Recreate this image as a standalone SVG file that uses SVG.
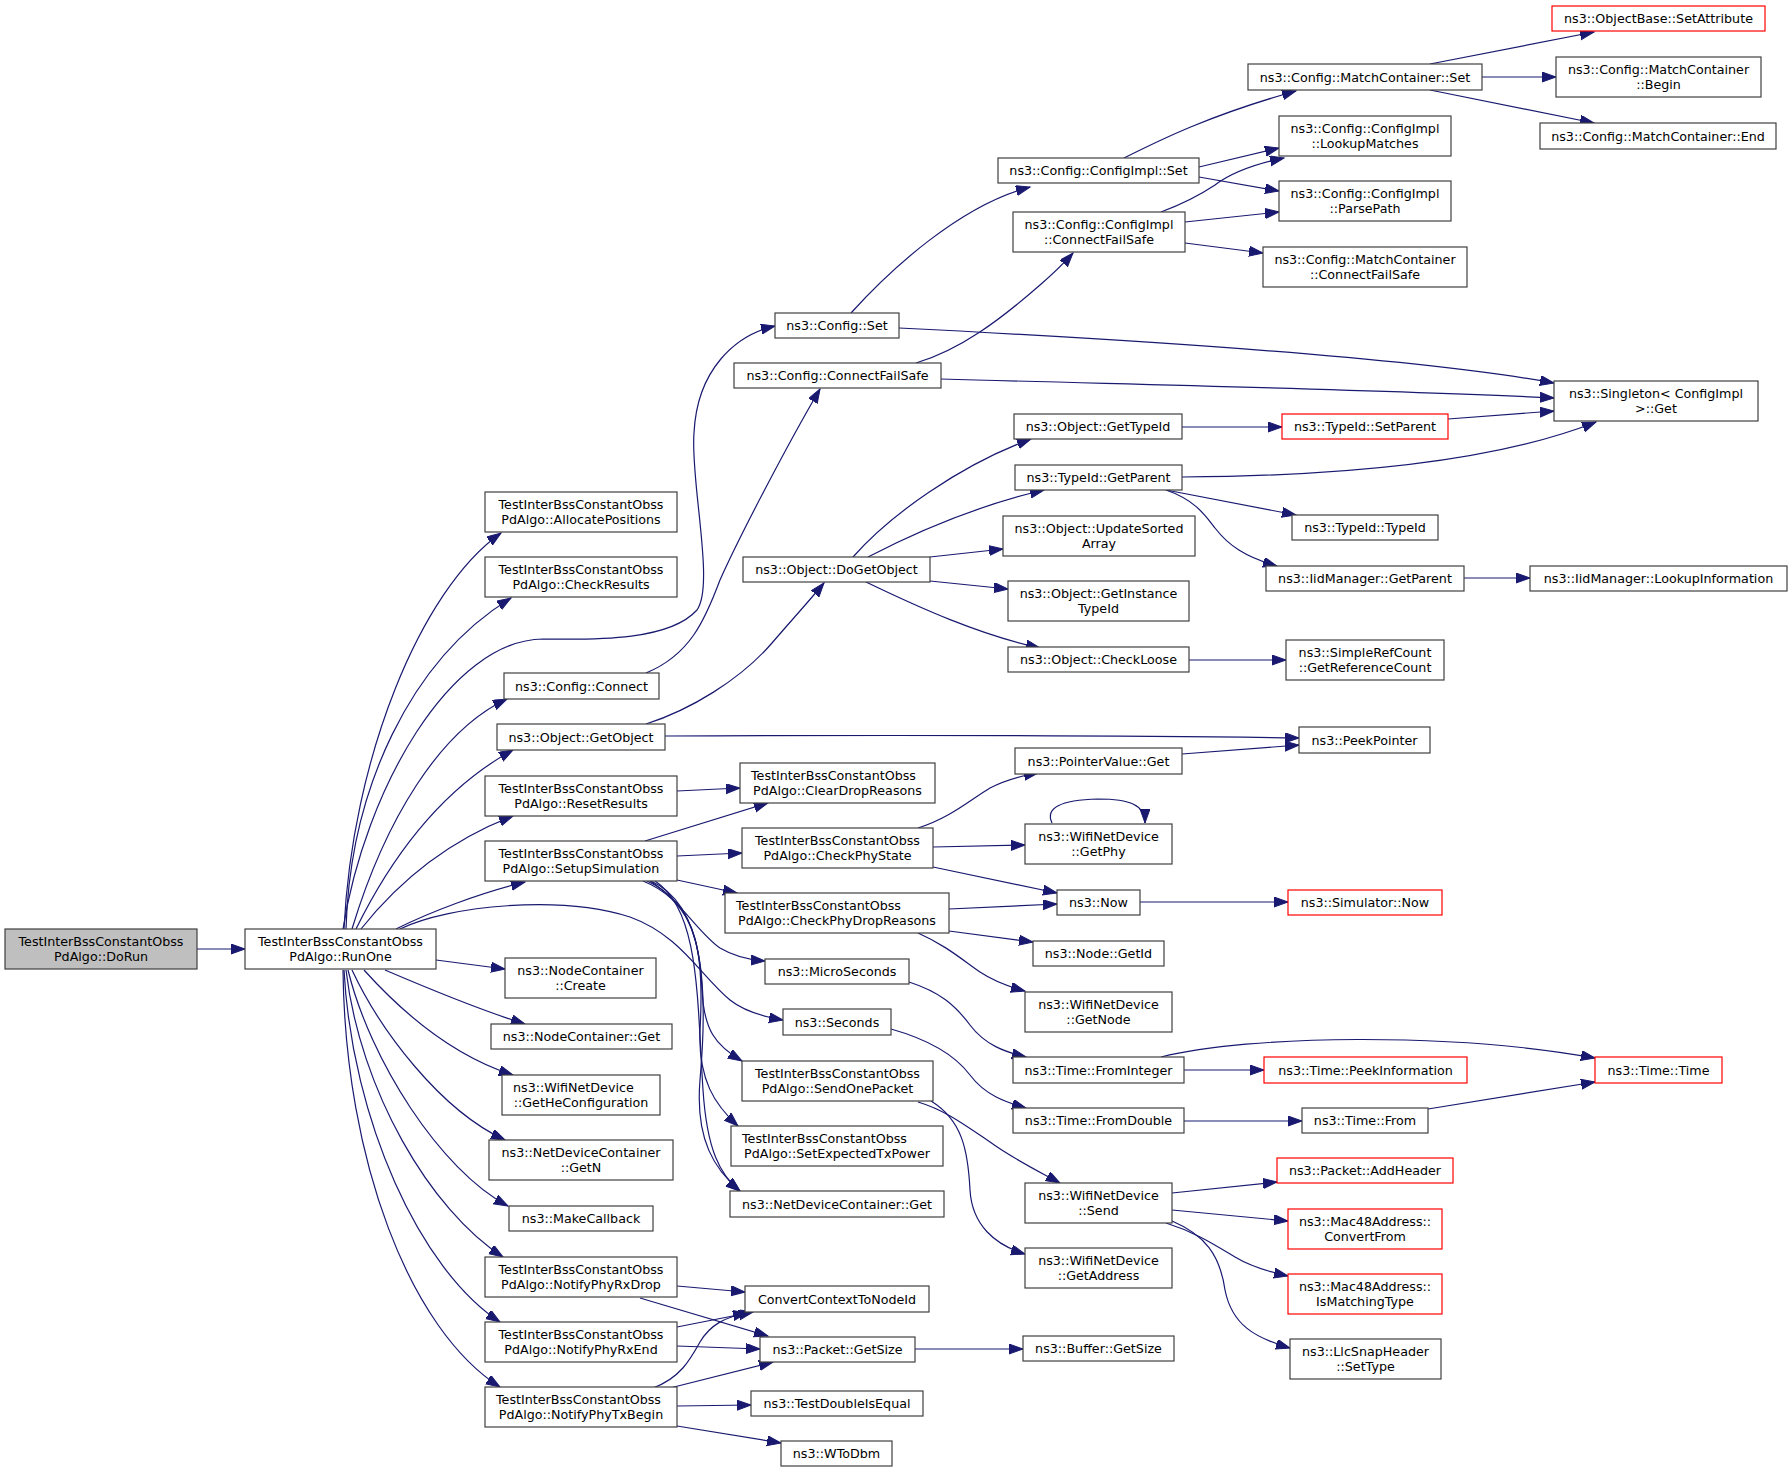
<svg xmlns="http://www.w3.org/2000/svg" width="1792" height="1475" viewBox="0 0 1792 1475">
<defs>
<style>
.n rect{fill:#fff;stroke:#404040;stroke-width:1.2}
.n.r rect{stroke:#ff0000}
.n.g rect{fill:#bfbfbf}
text{font-family:"DejaVu Sans","Liberation Sans",sans-serif;font-size:12.7px;fill:#000;text-anchor:middle}
text.l{text-anchor:start}
#edges path{fill:none;stroke:#191970;stroke-width:1.2;marker-end:url(#ah)}
</style>
<marker id="ah" markerUnits="userSpaceOnUse" markerWidth="16" markerHeight="12" refX="14" refY="5" orient="auto"><path d="M0,0 L14,5 L0,10 z" fill="#191970" stroke="#191970" stroke-width="1"/></marker>
</defs>
<rect width="1792" height="1475" fill="#fff"/>
<g id="edges">
<path d="M197,949 L245,949"/>
<path d="M344,929 C352,760 420,590 501,533"/>
<path d="M346,929 C350,790 410,660 511,598"/>
<path d="M343,929 C365,790 450,640 543,639 C600,640 670,640 697,610 C715,585 690,480 694,433 C697,370 735,335 775,326"/>
<path d="M352,929 C385,820 440,730 507,699"/>
<path d="M356,929 C390,860 440,790 513,750"/>
<path d="M361,929 C400,880 450,840 513,816"/>
<path d="M396,929 C430,912 480,893 525,882"/>
<path d="M400,929 C450,905 560,895 630,917 C680,935 700,975 730,1000 C745,1012 765,1017 783,1020"/>
<path d="M436,960 L505,969"/>
<path d="M385,970 C420,985 480,1010 525,1024"/>
<path d="M364,970 C400,1010 450,1055 513,1075"/>
<path d="M352,970 C380,1030 440,1110 505,1140"/>
<path d="M348,970 C370,1060 440,1170 508,1206"/>
<path d="M346,970 C360,1090 430,1210 503,1257"/>
<path d="M344,970 C352,1120 420,1270 500,1322"/>
<path d="M343,970 C345,1160 410,1330 500,1387"/>
<path d="M677,791 L740,788"/>
<path d="M645,841 L768,803"/>
<path d="M677,856 L742,853"/>
<path d="M677,880 L737,893"/>
<path d="M650,881 C680,900 700,935 720,948 C735,957 750,960 765,961"/>
<path d="M643,881 C690,900 700,940 702,990 C704,1030 715,1045 742,1061"/>
<path d="M647,881 C700,905 704,960 700,1030 C698,1080 715,1105 738,1126"/>
<path d="M651,881 C705,905 708,990 700,1080 C695,1140 715,1170 740,1191"/>
<path d="M655,881 C700,910 697,1000 703,1090 C707,1150 720,1175 740,1191"/>
<path d="M851,313 C890,270 960,205 1030,187"/>
<path d="M899,328 C1100,338 1400,355 1554,383"/>
<path d="M916,363 C960,350 1000,320 1040,285 C1055,272 1065,262 1073,253"/>
<path d="M941,379 C1200,386 1400,390 1554,398"/>
<path d="M646,673 C690,655 705,620 720,580 C740,535 790,440 820,389"/>
<path d="M646,724 C690,710 740,680 772,643 C790,622 810,600 824,583"/>
<path d="M665,736 C900,735 1100,735 1299,738"/>
<path d="M918,828 C950,818 970,800 990,788 C1005,780 1020,776 1038,773"/>
<path d="M933,847 L1025,845"/>
<path d="M933,867 L1057,893"/>
<path d="M949,909 L1057,904"/>
<path d="M949,931 L1033,942"/>
<path d="M918,933 C945,945 960,958 980,972 C995,982 1010,987 1025,991"/>
<path d="M1052,823 C1045,808 1060,800 1098,799 C1130,799 1145,805 1145,823"/>
<path d="M1140,902 L1288,902"/>
<path d="M909,982 C940,992 955,1005 970,1025 C985,1045 1005,1052 1026,1057"/>
<path d="M891,1029 C930,1040 955,1055 970,1075 C985,1095 1005,1102 1026,1108"/>
<path d="M918,1102 C945,1110 965,1125 990,1142 C1015,1160 1040,1172 1060,1183"/>
<path d="M931,1101 C962,1120 968,1150 970,1190 C972,1225 995,1245 1025,1254"/>
<path d="M677,1286 L745,1292"/>
<path d="M640,1298 L768,1336"/>
<path d="M677,1327 L753,1312"/>
<path d="M677,1346 L760,1349"/>
<path d="M653,1388 C680,1378 690,1360 700,1342 C710,1325 725,1317 747,1313"/>
<path d="M670,1388 L773,1362"/>
<path d="M677,1406 L751,1405"/>
<path d="M677,1426 L781,1443"/>
<path d="M915,1349 L1023,1349"/>
<path d="M1124,158 C1160,140 1210,115 1296,91"/>
<path d="M1199,167 L1279,148"/>
<path d="M1199,177 L1279,191"/>
<path d="M1161,212 C1185,203 1200,195 1215,185 C1235,170 1260,163 1284,158"/>
<path d="M1185,222 L1279,212"/>
<path d="M1185,243 L1263,253"/>
<path d="M1430,64 L1594,32"/>
<path d="M1482,77 L1556,77"/>
<path d="M1430,90 L1594,123"/>
<path d="M1182,427 L1282,427"/>
<path d="M1448,419 L1554,411"/>
<path d="M1182,477 C1350,476 1500,460 1596,422"/>
<path d="M1166,490 L1296,515"/>
<path d="M1166,490 C1195,500 1205,515 1215,528 C1228,545 1245,557 1277,566"/>
<path d="M1464,578 L1530,578"/>
<path d="M1189,660 L1286,660"/>
<path d="M853,557 C890,515 960,465 1031,439"/>
<path d="M868,557 C920,530 980,505 1044,490"/>
<path d="M930,557 L1003,549"/>
<path d="M930,581 L1008,589"/>
<path d="M866,582 C920,608 980,635 1040,648"/>
<path d="M1182,754 L1299,745"/>
<path d="M1161,1057 C1250,1035 1450,1032 1595,1058"/>
<path d="M1184,1070 L1264,1070"/>
<path d="M1184,1121 L1302,1121"/>
<path d="M1428,1109 L1595,1082"/>
<path d="M1172,1193 L1277,1182"/>
<path d="M1172,1210 L1288,1221"/>
<path d="M1166,1223 C1195,1232 1215,1245 1235,1257 C1250,1266 1265,1271 1288,1276"/>
<path d="M1172,1221 C1205,1235 1220,1255 1225,1290 C1232,1325 1255,1338 1290,1348"/>
</g>
<g id="n1" class="n g"><rect x="5" y="929" width="192" height="40"/><text x="101" y="946">TestInterBssConstantObss</text><text x="101" y="961">PdAlgo::DoRun</text></g>
<g id="n2" class="n"><rect x="245" y="929" width="191" height="40"/><text x="340.5" y="946">TestInterBssConstantObss</text><text x="340.5" y="961">PdAlgo::RunOne</text></g>
<g id="n3" class="n"><rect x="485" y="492" width="192" height="40"/><text x="581" y="509">TestInterBssConstantObss</text><text x="581" y="524">PdAlgo::AllocatePositions</text></g>
<g id="n4" class="n"><rect x="485" y="557" width="192" height="40"/><text x="581" y="574">TestInterBssConstantObss</text><text x="581" y="589">PdAlgo::CheckResults</text></g>
<g id="n5" class="n"><rect x="504" y="673" width="155" height="26"/><text x="581.5" y="690.5">ns3::Config::Connect</text></g>
<g id="n6" class="n"><rect x="497" y="724" width="168" height="26"/><text x="581" y="741.5">ns3::Object::GetObject</text></g>
<g id="n7" class="n"><rect x="485" y="776" width="192" height="40"/><text x="581" y="793">TestInterBssConstantObss</text><text x="581" y="808">PdAlgo::ResetResults</text></g>
<g id="n8" class="n"><rect x="485" y="841" width="192" height="40"/><text x="581" y="858">TestInterBssConstantObss</text><text x="581" y="873">PdAlgo::SetupSimulation</text></g>
<g id="n9" class="n"><rect x="505" y="958" width="151" height="40"/><text x="580.5" y="975">ns3::NodeContainer</text><text x="580.5" y="990">::Create</text></g>
<g id="n10" class="n"><rect x="491" y="1024" width="181" height="25"/><text x="581.5" y="1041">ns3::NodeContainer::Get</text></g>
<g id="n11" class="n"><rect x="502" y="1075" width="158" height="40"/><text class="l" x="513" y="1092">ns3::WifiNetDevice</text><text x="581" y="1107">::GetHeConfiguration</text></g>
<g id="n12" class="n"><rect x="489" y="1140" width="184" height="40"/><text x="581" y="1157">ns3::NetDeviceContainer</text><text x="581" y="1172">::GetN</text></g>
<g id="n13" class="n"><rect x="509" y="1206" width="144" height="25"/><text x="581" y="1223">ns3::MakeCallback</text></g>
<g id="n14" class="n"><rect x="485" y="1257" width="192" height="40"/><text x="581" y="1274">TestInterBssConstantObss</text><text x="581" y="1289">PdAlgo::NotifyPhyRxDrop</text></g>
<g id="n15" class="n"><rect x="485" y="1322" width="192" height="40"/><text x="581" y="1339">TestInterBssConstantObss</text><text x="581" y="1354">PdAlgo::NotifyPhyRxEnd</text></g>
<g id="n16" class="n"><rect x="485" y="1387" width="192" height="40"/><text class="l" x="496" y="1404">TestInterBssConstantObss</text><text x="581" y="1419">PdAlgo::NotifyPhyTxBegin</text></g>
<g id="n17" class="n"><rect x="775" y="313" width="124" height="25"/><text x="837" y="330">ns3::Config::Set</text></g>
<g id="n18" class="n"><rect x="734" y="363" width="207" height="25"/><text x="837.5" y="380">ns3::Config::ConnectFailSafe</text></g>
<g id="n19" class="n"><rect x="743" y="557" width="187" height="25"/><text x="836.5" y="574">ns3::Object::DoGetObject</text></g>
<g id="n20" class="n"><rect x="740" y="763" width="195" height="40"/><text class="l" x="751" y="780">TestInterBssConstantObss</text><text x="837.5" y="795">PdAlgo::ClearDropReasons</text></g>
<g id="n21" class="n"><rect x="742" y="828" width="191" height="40"/><text x="837.5" y="845">TestInterBssConstantObss</text><text x="837.5" y="860">PdAlgo::CheckPhyState</text></g>
<g id="n22" class="n"><rect x="725" y="893" width="224" height="40"/><text class="l" x="736" y="910">TestInterBssConstantObss</text><text x="837" y="925">PdAlgo::CheckPhyDropReasons</text></g>
<g id="n23" class="n"><rect x="765" y="959" width="144" height="25"/><text x="837" y="976">ns3::MicroSeconds</text></g>
<g id="n24" class="n"><rect x="783" y="1009" width="108" height="26"/><text x="837" y="1026.5">ns3::Seconds</text></g>
<g id="n25" class="n"><rect x="742" y="1061" width="191" height="40"/><text x="837.5" y="1078">TestInterBssConstantObss</text><text x="837.5" y="1093">PdAlgo::SendOnePacket</text></g>
<g id="n26" class="n"><rect x="731" y="1126" width="212" height="40"/><text class="l" x="742" y="1143">TestInterBssConstantObss</text><text x="837" y="1158">PdAlgo::SetExpectedTxPower</text></g>
<g id="n27" class="n"><rect x="730" y="1191" width="214" height="26"/><text x="837" y="1208.5">ns3::NetDeviceContainer::Get</text></g>
<g id="n28" class="n"><rect x="745" y="1286" width="184" height="26"/><text x="837" y="1303.5">ConvertContextToNodeId</text></g>
<g id="n29" class="n"><rect x="760" y="1337" width="155" height="25"/><text x="837.5" y="1354">ns3::Packet::GetSize</text></g>
<g id="n30" class="n"><rect x="751" y="1391" width="172" height="25"/><text x="837" y="1408">ns3::TestDoubleIsEqual</text></g>
<g id="n31" class="n"><rect x="781" y="1441" width="111" height="25"/><text x="836.5" y="1458">ns3::WToDbm</text></g>
<g id="n32" class="n"><rect x="998" y="158" width="201" height="25"/><text x="1098.5" y="175">ns3::Config::ConfigImpl::Set</text></g>
<g id="n33" class="n"><rect x="1013" y="212" width="172" height="40"/><text x="1099" y="229">ns3::Config::ConfigImpl</text><text x="1099" y="244">::ConnectFailSafe</text></g>
<g id="n34" class="n"><rect x="1014" y="414" width="168" height="25"/><text x="1098" y="431">ns3::Object::GetTypeId</text></g>
<g id="n35" class="n"><rect x="1015" y="465" width="167" height="25"/><text x="1098.5" y="482">ns3::TypeId::GetParent</text></g>
<g id="n36" class="n"><rect x="1003" y="516" width="192" height="40"/><text x="1099" y="533">ns3::Object::UpdateSorted</text><text x="1099" y="548">Array</text></g>
<g id="n37" class="n"><rect x="1008" y="581" width="181" height="40"/><text x="1098.5" y="598">ns3::Object::GetInstance</text><text x="1098.5" y="613">TypeId</text></g>
<g id="n38" class="n"><rect x="1008" y="647" width="181" height="25"/><text x="1098.5" y="664">ns3::Object::CheckLoose</text></g>
<g id="n39" class="n"><rect x="1015" y="748" width="167" height="26"/><text x="1098.5" y="765.5">ns3::PointerValue::Get</text></g>
<g id="n40" class="n"><rect x="1025" y="824" width="147" height="40"/><text x="1098.5" y="841">ns3::WifiNetDevice</text><text x="1098.5" y="856">::GetPhy</text></g>
<g id="n41" class="n"><rect x="1057" y="890" width="83" height="25"/><text x="1098.5" y="907">ns3::Now</text></g>
<g id="n42" class="n"><rect x="1033" y="941" width="131" height="25"/><text x="1098.5" y="958">ns3::Node::GetId</text></g>
<g id="n43" class="n"><rect x="1025" y="992" width="147" height="40"/><text x="1098.5" y="1009">ns3::WifiNetDevice</text><text x="1098.5" y="1024">::GetNode</text></g>
<g id="n44" class="n"><rect x="1013" y="1057" width="171" height="26"/><text x="1098.5" y="1074.5">ns3::Time::FromInteger</text></g>
<g id="n45" class="n"><rect x="1013" y="1108" width="171" height="25"/><text x="1098.5" y="1125">ns3::Time::FromDouble</text></g>
<g id="n46" class="n"><rect x="1025" y="1183" width="147" height="40"/><text x="1098.5" y="1200">ns3::WifiNetDevice</text><text x="1098.5" y="1215">::Send</text></g>
<g id="n47" class="n"><rect x="1025" y="1248" width="147" height="40"/><text x="1098.5" y="1265">ns3::WifiNetDevice</text><text x="1098.5" y="1280">::GetAddress</text></g>
<g id="n48" class="n"><rect x="1023" y="1336" width="151" height="25"/><text x="1098.5" y="1353">ns3::Buffer::GetSize</text></g>
<g id="n49" class="n"><rect x="1248" y="64" width="234" height="26"/><text x="1365" y="81.5">ns3::Config::MatchContainer::Set</text></g>
<g id="n50" class="n"><rect x="1279" y="116" width="172" height="40"/><text x="1365" y="133">ns3::Config::ConfigImpl</text><text x="1365" y="148">::LookupMatches</text></g>
<g id="n51" class="n"><rect x="1279" y="181" width="172" height="40"/><text x="1365" y="198">ns3::Config::ConfigImpl</text><text x="1365" y="213">::ParsePath</text></g>
<g id="n52" class="n"><rect x="1263" y="247" width="204" height="40"/><text x="1365" y="264">ns3::Config::MatchContainer</text><text x="1365" y="279">::ConnectFailSafe</text></g>
<g id="n53" class="n"><rect x="1554" y="381" width="204" height="40"/><text x="1656" y="398">ns3::Singleton&lt; ConfigImpl</text><text x="1656" y="413"> &gt;::Get</text></g>
<g id="n54" class="n r"><rect x="1282" y="414" width="166" height="25"/><text x="1365" y="431">ns3::TypeId::SetParent</text></g>
<g id="n55" class="n"><rect x="1292" y="515" width="146" height="25"/><text x="1365" y="532">ns3::TypeId::TypeId</text></g>
<g id="n56" class="n"><rect x="1266" y="566" width="198" height="25"/><text x="1365" y="583">ns3::IidManager::GetParent</text></g>
<g id="n57" class="n"><rect x="1286" y="640" width="158" height="40"/><text x="1365" y="657">ns3::SimpleRefCount</text><text x="1365" y="672">::GetReferenceCount</text></g>
<g id="n58" class="n"><rect x="1299" y="727" width="131" height="26"/><text x="1364.5" y="744.5">ns3::PeekPointer</text></g>
<g id="n59" class="n r"><rect x="1288" y="890" width="154" height="25"/><text x="1365" y="907">ns3::Simulator::Now</text></g>
<g id="n60" class="n r"><rect x="1264" y="1057" width="203" height="26"/><text x="1365.5" y="1074.5">ns3::Time::PeekInformation</text></g>
<g id="n61" class="n"><rect x="1302" y="1108" width="126" height="25"/><text x="1365" y="1125">ns3::Time::From</text></g>
<g id="n62" class="n r"><rect x="1277" y="1158" width="176" height="25"/><text x="1365" y="1175">ns3::Packet::AddHeader</text></g>
<g id="n63" class="n r"><rect x="1288" y="1209" width="154" height="40"/><text x="1365" y="1226">ns3::Mac48Address::</text><text x="1365" y="1241">ConvertFrom</text></g>
<g id="n64" class="n r"><rect x="1288" y="1274" width="154" height="40"/><text x="1365" y="1291">ns3::Mac48Address::</text><text x="1365" y="1306">IsMatchingType</text></g>
<g id="n65" class="n"><rect x="1290" y="1339" width="151" height="40"/><text x="1365.5" y="1356">ns3::LlcSnapHeader</text><text x="1365.5" y="1371">::SetType</text></g>
<g id="n66" class="n r"><rect x="1552" y="6" width="213" height="25"/><text x="1658.5" y="23">ns3::ObjectBase::SetAttribute</text></g>
<g id="n67" class="n"><rect x="1556" y="57" width="205" height="40"/><text x="1658.5" y="74">ns3::Config::MatchContainer</text><text x="1658.5" y="89">::Begin</text></g>
<g id="n68" class="n"><rect x="1540" y="123" width="236" height="26"/><text x="1658" y="140.5">ns3::Config::MatchContainer::End</text></g>
<g id="n69" class="n"><rect x="1530" y="566" width="257" height="25"/><text x="1658.5" y="583">ns3::IidManager::LookupInformation</text></g>
<g id="n70" class="n r"><rect x="1595" y="1057" width="127" height="26"/><text x="1658.5" y="1074.5">ns3::Time::Time</text></g>
</svg>
